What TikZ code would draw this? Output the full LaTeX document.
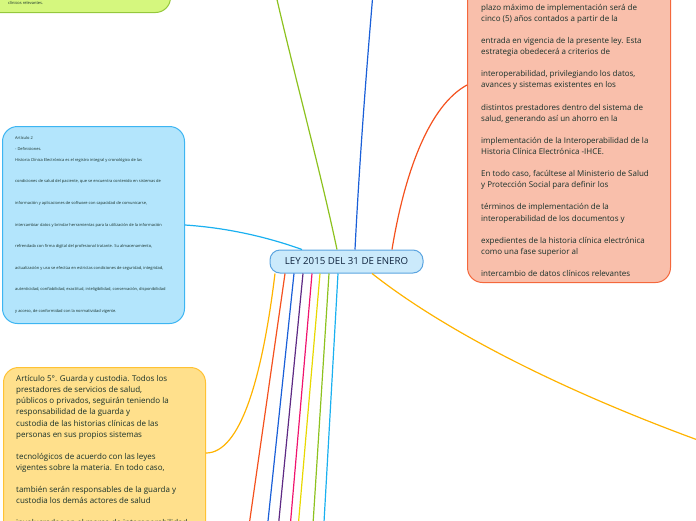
\documentclass[tikz,border=0pt]{standalone}
\usepackage{fontspec}
\setmainfont{Open Sans}
\usetikzlibrary{calc}
\definecolor{greenF}{HTML}{D5F77E}
\definecolor{greenD}{HTML}{95C83C}
\definecolor{blueF}{HTML}{B3E5FC}
\definecolor{blueD}{HTML}{3DB5F2}
\definecolor{salF}{HTML}{F9BFAB}
\definecolor{salD}{HTML}{F4683C}
\definecolor{yelF}{HTML}{FFE08C}
\definecolor{yelD}{HTML}{FFC233}
\definecolor{rootF}{HTML}{CBEAFB}
\definecolor{rootD}{HTML}{5BA4E0}
\definecolor{txtc}{HTML}{17302A}
\definecolor{roottxt}{HTML}{10243E}
\definecolor{cGreen}{HTML}{8DC21F}
\definecolor{cBlue}{HTML}{1A5FD8}
\definecolor{cRed}{HTML}{F4511E}
\definecolor{cCyan}{HTML}{1AB0F0}
\definecolor{cAmber}{HTML}{FFB300}
\definecolor{cPurple}{HTML}{5E2A84}
\definecolor{cPink}{HTML}{F0146E}
\definecolor{cYellow}{HTML}{E8D800}
\begin{document}
\begin{tikzpicture}[x=1pt,y=-1pt,
  box/.style={draw, line width=1pt, rounded corners=15pt, anchor=north west, inner sep=0pt},
  txt/.style={anchor=north west, inner sep=0pt, align=left, text=txtc},
  link/.style={line width=1.2pt}]
\useasboundingbox (0,0) rectangle (696,520);
\clip (0,0) rectangle (696,520);
% boxes
\node[box, fill=greenF, draw=greenD, minimum width=200pt, minimum height=112pt] (greenbox) at (-30,-100) {};
\node[box, fill=blueF, draw=blueD, minimum width=182pt, minimum height=197pt] (bluebox) at (2,126) {};
\node[box, fill=salF, draw=salD, minimum width=203pt, minimum height=482pt] (salbox) at (467,-200) {};
\node[box, fill=yelF, draw=yelD, minimum width=202pt, minimum height=233pt] (yelbox) at (3,367) {};
\node[draw=rootD, fill=rootF, line width=1pt, rounded corners=10pt, minimum width=153pt, minimum height=23pt, inner sep=0pt, text=roottxt, font=\fontsize{9.7}{11}\selectfont] (root) at (346.5,261.5) {LEY 2015 DEL 31 DE ENERO};
% free ends
\coordinate (gEnd) at (268,-40);
\coordinate (bEnd) at (375,-30);
\coordinate (aEnd) at (740,455);
\coordinate (e1) at (247,540);
\coordinate (e2) at (266,540);
\coordinate (e3) at (277,540);
\coordinate (e4) at (289,540);
\coordinate (e5) at (297,540);
\coordinate (e6) at (312,540);
\coordinate (e7) at (323,540);
% connectors
\draw[link, cGreen] ([xshift=-9.5pt]root.north) .. controls (318,160) and (290,60) .. (gEnd);
\draw[link, cBlue] ([xshift=8.5pt]root.north) .. controls (360,150) and (368,50) .. (bEnd);
\draw[link, cRed] ([xshift=45.5pt]root.north) .. controls (405,170) and (430,105) .. ($(salbox.north west)+(0,285)$);
\draw[link, cCyan] ($(bluebox.north east)+(0,99)$) .. controls (230,228) and (270,238) .. ([xshift=-44.5pt]root.north);
\draw[link, cAmber] ([xshift=-71.5pt]root.south) .. controls (262,380) and (240,453) .. ($(yelbox.north east)+(0,86)$);
\draw[link, cAmber] ([xshift=25.5pt]root.south) .. controls (450,335) and (580,400) .. (aEnd);
\draw[link, cRed] ([xshift=-61.5pt]root.south) -- (e1);
\draw[link, cBlue] ([xshift=-52.5pt]root.south) -- (e2);
\draw[link, cPurple] ([xshift=-43.5pt]root.south) -- (e3);
\draw[link, cPink] ([xshift=-34.5pt]root.south) -- (e4);
\draw[link, cYellow] ([xshift=-26.5pt]root.south) -- (e5);
\draw[link, cGreen] ([xshift=-17.5pt]root.south) -- (e6);
\draw[link, cCyan] ([xshift=-8.5pt]root.south) -- (e7);
% texts
\node[txt, font=\fontsize{4}{10.8}\selectfont] (greentxt) at (8,0.8) {clínicos relevantes.};
\node[txt, font=\fontsize{4}{10.8}\selectfont] (bluetxt) at (15,136.5) {Artículo 2\\
- Definiciones.\\
Historia Clínica Electrónica es el registro integral y cronológico de las\\[10.8pt]
condiciones de salud del paciente, que se encuentra contenido en sistemas de\\[10.8pt]
información y aplicaciones de software con capacidad de comunicarse,\\[10.8pt]
intercambiar datos y brindar herramientas para la utilización de la información\\[10.8pt]
refrendada con firma digital del profesional tratante. Su almacenamiento,\\[10.8pt]
actualización y uso se efectúa en estrictas condiciones de seguridad, integridad,\\[10.8pt]
autenticidad, confiabilidad, exactitud, inteligibilidad, conservación, disponibilidad\\[10.8pt]
y acceso, de conformidad con la normatividad vigente.};
\node[txt, font=\fontsize{8}{11.1}\selectfont] (saltxt) at (481,3.8) {plazo máximo de implementación será de\\
cinco (5) años contados a partir de la\\[11.1pt]
entrada en vigencia de la presente ley. Esta\\
estrategia obedecerá a criterios de\\[11.1pt]
interoperabilidad, privilegiando los datos,\\
avances y sistemas existentes en los\\[11.1pt]
distintos prestadores dentro del sistema de\\
salud, generando así un ahorro en la\\[11.1pt]
implementación de la Interoperabilidad de la\\
Historia Clínica Electrónica -IHCE.\\[11.1pt]
En todo caso, facúltese al Ministerio de Salud\\
y Protección Social para definir los\\[11.1pt]
términos de implementación de la\\
interoperabilidad de los documentos y\\[11.1pt]
expedientes de la historia clínica electrónica\\
como una fase superior al\\[11.1pt]
intercambio de datos clínicos relevantes};
\node[txt, font=\fontsize{8}{11.1}\selectfont] (yeltxt) at (16,375.3) {Artículo 5°. Guarda y custodia. Todos los\\
prestadores de servicios de salud,\\
públicos o privados, seguirán teniendo la\\
responsabilidad de la guarda y\\
custodia de las historias clínicas de las\\
personas en sus propios sistemas\\[11.1pt]
tecnológicos de acuerdo con las leyes\\
vigentes sobre la materia. En todo caso,\\[11.1pt]
también serán responsables de la guarda y\\
custodia los demás actores de salud\\[11.1pt]
involucrados en el marco de interoperabilidad};
\end{tikzpicture}
\end{document}
